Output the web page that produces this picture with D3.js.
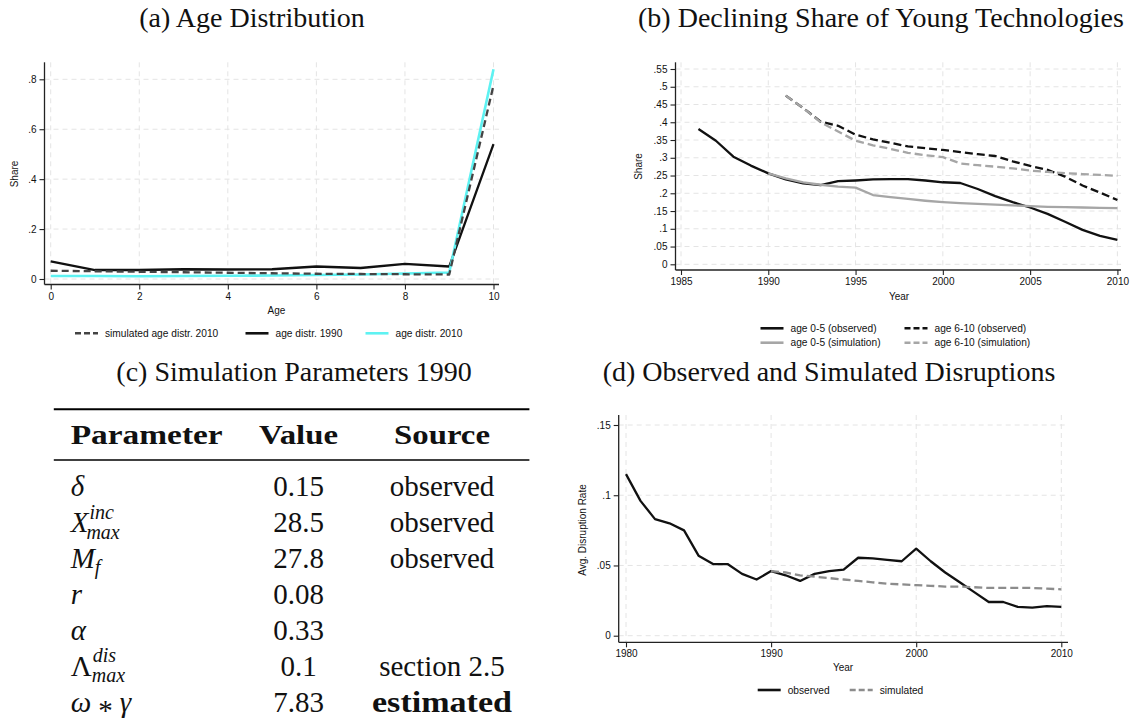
<!DOCTYPE html>
<html>
<head>
<meta charset="utf-8">
<script src="https://cdn.jsdelivr.net/npm/d3@7"></script>
<style>
body { margin: 0; background: #fff; }
text { font-family: "Liberation Sans", Arial, sans-serif; fill: #111; }
.serif { font-family: "Liberation Serif", "Times New Roman", serif; }
</style>
</head>
<body>
<script>

// (a) age distribution
const ages = [0, 1, 2, 3, 4, 5, 6, 7, 8, 9, 10]
const simAge2010 = [0.033, 0.031, 0.029, 0.027, 0.025, 0.023, 0.021, 0.020, 0.019, 0.018, 0.776]
const age1990 = [0.071, 0.036, 0.036, 0.039, 0.038, 0.039, 0.050, 0.044, 0.061, 0.050, 0.540]
const age2010 = [0.012, 0.012, 0.011, 0.012, 0.013, 0.014, 0.016, 0.018, 0.022, 0.026, 0.840]
const ageTicks = [0, 2, 4, 6, 8, 10]
const shareTicksA = [0, 0.2, 0.4, 0.6, 0.8]
const legendA = ['simulated age distr. 2010', 'age distr. 1990', 'age distr. 2010']

// (b) declining share of young technologies
const yearsObs05 = [1986, 1987, 1988, 1989, 1990, 1991, 1992, 1993, 1994, 1995, 1996, 1997, 1998, 1999, 2000, 2001, 2002, 2003, 2004, 2005, 2006, 2007, 2008, 2009, 2010]
const young05Obs = [0.381, 0.348, 0.303, 0.278, 0.256, 0.239, 0.228, 0.223, 0.234, 0.236, 0.239, 0.240, 0.240, 0.236, 0.231, 0.229, 0.212, 0.192, 0.175, 0.160, 0.142, 0.120, 0.097, 0.080, 0.069]
const yearsSim05 = [1990, 1991, 1992, 1993, 1994, 1995, 1996, 1997, 1998, 1999, 2000, 2001, 2002, 2003, 2004, 2005, 2006, 2007, 2008, 2009, 2010]
const young05Sim = [0.256, 0.242, 0.231, 0.224, 0.219, 0.216, 0.195, 0.189, 0.184, 0.179, 0.175, 0.172, 0.170, 0.168, 0.166, 0.164, 0.162, 0.161, 0.160, 0.159, 0.158]
const years610 = [1991, 1992, 1993, 1994, 1995, 1996, 1997, 1998, 1999, 2000, 2001, 2002, 2003, 2004, 2005, 2006, 2007, 2008, 2009, 2010]
const young610Obs = [0.475, 0.440, 0.402, 0.390, 0.365, 0.352, 0.342, 0.332, 0.327, 0.322, 0.316, 0.310, 0.305, 0.290, 0.277, 0.266, 0.247, 0.222, 0.202, 0.181]
const young610Sim = [0.475, 0.440, 0.400, 0.374, 0.348, 0.335, 0.325, 0.314, 0.307, 0.302, 0.284, 0.279, 0.275, 0.270, 0.264, 0.260, 0.257, 0.254, 0.252, 0.249]
const yearTicksB = [1985, 1990, 1995, 2000, 2005, 2010]
const shareTicksB = [0, 0.05, 0.1, 0.15, 0.2, 0.25, 0.3, 0.35, 0.4, 0.45, 0.5, 0.55]
const legendB = ['age 0-5 (observed)', 'age 6-10 (observed)', 'age 0-5 (simulation)', 'age 6-10 (simulation)']

// (c) simulation parameters
const paramValues = ['0.15', '28.5', '27.8', '0.08', '0.33', '0.1', '7.83']
const paramSources = ['observed', 'observed', 'observed', '', '', 'section 2.5', 'estimated']
const tableHeader = ['Parameter', 'Value', 'Source']

// (d) observed and simulated disruptions
const yearsD = [1980, 1981, 1982, 1983, 1984, 1985, 1986, 1987, 1988, 1989, 1990, 1991, 1992, 1993, 1994, 1995, 1996, 1997, 1998, 1999, 2000, 2001, 2002, 2003, 2004, 2005, 2006, 2007, 2008, 2009, 2010]
const disruptObs = [0.115, 0.096, 0.083, 0.080, 0.075, 0.057, 0.051, 0.051, 0.044, 0.040, 0.046, 0.043, 0.039, 0.044, 0.046, 0.047, 0.0555, 0.055, 0.054, 0.053, 0.062, 0.053, 0.045, 0.038, 0.031, 0.024, 0.024, 0.0205, 0.020, 0.021, 0.0205]
const yearsDSim = [1990, 1991, 1992, 1993, 1994, 1995, 1996, 1997, 1998, 1999, 2000, 2001, 2002, 2003, 2004, 2005, 2006, 2007, 2008, 2009, 2010]
const disruptSim = [0.046, 0.045, 0.043, 0.042, 0.041, 0.040, 0.039, 0.038, 0.037, 0.0365, 0.036, 0.0355, 0.035, 0.035, 0.0345, 0.034, 0.034, 0.034, 0.034, 0.0335, 0.033]
const yearTicksD = [1980, 1990, 2000, 2010]
const rateTicks = [0, 0.05, 0.1, 0.15]
const legendD = ['observed', 'simulated']

const svg = d3.select('body').append('svg')
  .attr('width', 1132)
  .attr('height', 727)

// stata style labels: .8, .05, 0
const fmt = d => d === 0 ? '0' : String(+d.toFixed(2)).replace(/^0\./, '.')

function panel(cfg) {
  const g = svg.append('g')
  const x = d3.scaleLinear().domain(cfg.xDom).range(cfg.xRange)
  const y = d3.scaleLinear().domain(cfg.yDom).range(cfg.yRange)

  // grid
  g.selectAll('.hgrid').data(cfg.yTicks).enter().append('line')
    .attr('x1', cfg.left).attr('x2', cfg.right)
    .attr('y1', d => y(d)).attr('y2', d => y(d))
    .attr('stroke', '#e4e4e4').attr('stroke-dasharray', '5,4')
  g.selectAll('.vgrid').data(cfg.xTicks).enter().append('line')
    .attr('x1', d => x(d)).attr('x2', d => x(d))
    .attr('y1', cfg.top).attr('y2', cfg.bottom)
    .attr('stroke', '#e4e4e4').attr('stroke-dasharray', '5,4')

  let ya = g.append('g')
    .attr('transform', 'translate(' + cfg.left + ',0)')
    .call(d3.axisLeft(y).tickValues(cfg.yTicks).tickFormat(fmt).tickSize(5).tickPadding(3))
  let xa = g.append('g')
    .attr('transform', 'translate(0,' + cfg.bottom + ')')
    .call(d3.axisBottom(x).tickValues(cfg.xTicks).tickFormat(d => d).tickSize(5).tickPadding(3))
  ;[ya, xa].forEach(a => {
    a.select('.domain').remove()
    a.selectAll('line').attr('stroke', '#222').attr('stroke-width', 1.1)
    a.selectAll('text').style('font-size', '10px').style('font-family', '"Liberation Sans", Arial, sans-serif').attr('fill', '#111')
  })

  g.append('line').attr('x1', cfg.left).attr('x2', cfg.left).attr('y1', cfg.top).attr('y2', cfg.bottom)
    .attr('stroke', '#222').attr('stroke-width', 1.3)
  g.append('line').attr('x1', cfg.left).attr('x2', cfg.right).attr('y1', cfg.bottom).attr('y2', cfg.bottom)
    .attr('stroke', '#222').attr('stroke-width', 1.3)

  // axis titles
  g.append('text')
    .attr('transform', 'translate(' + cfg.yLab[0] + ',' + cfg.yLab[1] + ') rotate(-90)')
    .attr('text-anchor', 'middle').attr('dy', '0.35em')
    .style('font-size', '10px')
    .text(cfg.yTitle)
  g.append('text')
    .attr('x', cfg.xLab[0]).attr('y', cfg.xLab[1])
    .attr('text-anchor', 'middle').attr('dy', '0.35em')
    .style('font-size', '10px')
    .text(cfg.xTitle)
  return {g, x, y}
}

function addLine(p, xs, ys, color, dash, w) {
  p.g.append('path')
    .datum(d3.zip(xs, ys))
    .attr('fill', 'none')
    .attr('stroke', color)
    .attr('stroke-width', w || 2.3)
    .attr('stroke-linejoin', 'round')
    .attr('stroke-dasharray', dash || null)
    .attr('d', d3.line().x(d => p.x(d[0])).y(d => p.y(d[1])))
}

function legendItem(x, y, label, color, dash) {
  svg.append('line')
    .attr('x1', x).attr('x2', x + 23).attr('y1', y).attr('y2', y)
    .attr('stroke', color).attr('stroke-width', 2.6)
    .attr('stroke-dasharray', dash || null)
  svg.append('text')
    .attr('x', x + 30).attr('y', y).attr('dy', '0.35em')
    .style('font-size', '10.2px')
    .text(label)
}

function title(x, y, t) {
  svg.append('text').attr('class', 'serif')
    .attr('x', x).attr('y', y)
    .attr('text-anchor', 'middle')
    .style('font-size', '28px')
    .text(t)
}

// ---------- (a)
title(252, 27, '(a) Age Distribution')
let pa = panel({
  xDom: [0, 10], xRange: [50.7, 493.5],
  yDom: [0, 0.8], yRange: [279, 79.3],
  left: 44.5, right: 499, top: 62.3, bottom: 284.5,
  xTicks: ageTicks, yTicks: shareTicksA,
  yTitle: 'Share', yLab: [14.4, 174],
  xTitle: 'Age', xLab: [276.4, 310.7]
})
addLine(pa, ages, age1990, '#111')
addLine(pa, ages, age2010, '#5ef2f2', null, 2.6)
addLine(pa, ages, simAge2010, '#444', '7,4')
legendItem(75, 333.3, legendA[0], '#444', '6,3')
legendItem(245.5, 333.3, legendA[1], '#111')
legendItem(365.5, 333.3, legendA[2], '#5ef2f2')

// ---------- (b)
title(881, 27, '(b) Declining Share of Young Technologies')
let pb = panel({
  xDom: [1985, 2010], xRange: [681, 1117.4],
  yDom: [0, 0.55], yRange: [264.3, 69],
  left: 675.5, right: 1121, top: 62.3, bottom: 270,
  xTicks: yearTicksB, yTicks: shareTicksB,
  yTitle: 'Share', yLab: [638.8, 166.5],
  xTitle: 'Year', xLab: [899, 296.7]
})
addLine(pb, yearsObs05, young05Obs, '#111')
addLine(pb, years610, young610Obs, '#111', '8,4')
addLine(pb, yearsSim05, young05Sim, '#a6a6a6')
addLine(pb, years610, young610Sim, '#a6a6a6', '8,4')
legendItem(760.5, 328.3, legendB[0], '#111')
legendItem(904.5, 328.3, legendB[1], '#111', '6,3')
legendItem(760.5, 342.7, legendB[2], '#a6a6a6')
legendItem(904.5, 342.7, legendB[3], '#a6a6a6', '6,3')

// ---------- (d)
title(829, 381, '(d) Observed and Simulated Disruptions')
let pd = panel({
  xDom: [1980, 2010], xRange: [626, 1061.3],
  yDom: [0, 0.15], yRange: [635.7, 425],
  left: 618.7, right: 1068, top: 415, bottom: 642.3,
  xTicks: yearTicksD, yTicks: rateTicks,
  yTitle: 'Avg. Disruption Rate', yLab: [582.7, 530],
  xTitle: 'Year', xLab: [843, 667]
})
addLine(pd, yearsD, disruptObs, '#111')
addLine(pd, yearsDSim, disruptSim, '#8c8c8c', '8,4')
legendItem(757.7, 690, legendD[0], '#111')
legendItem(849.7, 690, legendD[1], '#8c8c8c', '6,3')

// ---------- (c) table
title(294, 381, '(c) Simulation Parameters 1990')
const tab = svg.append('g').attr('class', 'serif')
tab.append('line').attr('x1', 53.8).attr('x2', 529.4).attr('y1', 409.3).attr('y2', 409.3)
  .attr('stroke', '#000').attr('stroke-width', 2)
tab.append('line').attr('x1', 53.8).attr('x2', 529.4).attr('y1', 460).attr('y2', 460)
  .attr('stroke', '#000').attr('stroke-width', 1.3)

const colX = [70.7, 298.5, 442]
const headW = [152, 79, 96]
tableHeader.forEach((h, i) => {
  tab.append('text').attr('class', 'serif')
    .attr('x', colX[i]).attr('y', 444.3)
    .attr('text-anchor', i === 0 ? 'start' : 'middle')
    .style('font-size', '27px').style('font-weight', 'bold')
    .attr('textLength', headW[i]).attr('lengthAdjust', 'spacingAndGlyphs')
    .text(h)
})

const rowY = [496, 532, 567.5, 603.5, 639.5, 675.5, 711.5]
const fs = 29

// parameter symbols with super/subscripts
function sym(row, base, italic, sup, sub) {
  const t = tab.append('text').attr('class', 'serif')
    .attr('x', colX[0]).attr('y', rowY[row])
    .style('font-size', fs + 'px')
    .style('font-style', italic ? 'italic' : 'normal')
    .text(base)
  const w = t.node().getComputedTextLength()
  if (sup) {
    tab.append('text').attr('class', 'serif')
      .attr('x', colX[0] + w + 1).attr('y', rowY[row] - 13.5)
      .style('font-size', '20px').style('font-style', 'italic')
      .text(sup)
  }
  if (sub) {
    tab.append('text').attr('class', 'serif')
      .attr('x', colX[0] + w + (base === 'X' ? -2 : 0)).attr('y', rowY[row] + 6.5)
      .style('font-size', '20px').style('font-style', 'italic')
      .text(sub)
  }
}
sym(0, 'δ', true)
sym(1, 'X', true, 'inc', 'max')
sym(2, 'M', true, null, 'f')
sym(3, 'r', true)
sym(4, 'α', true)
sym(5, 'Λ', false, 'dis', 'max')
const og = tab.append('text').attr('class', 'serif')
  .attr('x', colX[0]).attr('y', rowY[6])
  .style('font-size', fs + 'px')
og.append('tspan').style('font-style', 'italic').text('ω')
og.append('tspan').attr('dx', 7).attr('dy', 8).text('*')
og.append('tspan').attr('dx', 7).attr('dy', -8).style('font-style', 'italic').text('γ')

paramValues.forEach((v, i) => {
  tab.append('text').attr('class', 'serif')
    .attr('x', colX[1]).attr('y', rowY[i])
    .attr('text-anchor', 'middle')
    .style('font-size', fs + 'px')
    .text(v)
})
paramSources.forEach((s, i) => {
  if (!s) return
  let t = tab.append('text').attr('class', 'serif')
    .attr('x', colX[2]).attr('y', rowY[i])
    .attr('text-anchor', 'middle')
    .style('font-size', fs + 'px')
    .text(s)
  if (s === 'estimated') {
    t.style('font-weight', 'bold').attr('textLength', 140).attr('lengthAdjust', 'spacingAndGlyphs')
  }
})

</script>
</body>
</html>
